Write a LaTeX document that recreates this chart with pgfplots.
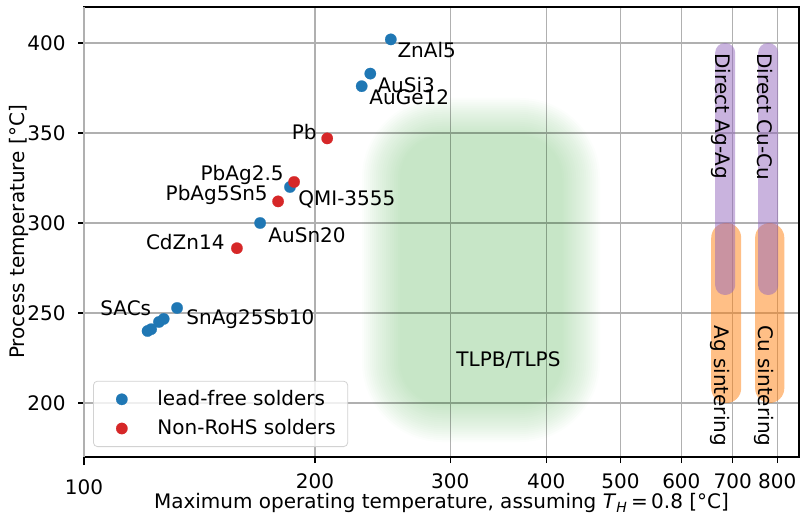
\documentclass[border=0pt]{standalone}
\usepackage{pgfplots}
\pgfplotsset{compat=1.18}
\usepackage{fontspec}
\setmainfont{DejaVu Sans}
\definecolor{tabblue}{RGB}{31,119,180}
\definecolor{tabred}{RGB}{214,39,40}
\definecolor{tabgreen}{RGB}{44,160,44}
\definecolor{tabpurple}{RGB}{148,103,189}
\definecolor{taborange}{RGB}{255,127,14}
\definecolor{gridgray}{RGB}{176,176,176}
\begin{document}
\fontsize{10}{12}\selectfont
\begin{tikzpicture}
\begin{axis}[name=ax, scale only axis, width=357.5pt, height=225pt,
  xmode=log, xmin=100, xmax=854, ymin=170, ymax=420,
  xtick={200,300,400,500,600,700,800},
  xticklabels={200,300,400,500,600,700,800},
  extra x ticks={100}, extra x tick labels={100},
  extra x tick style={major tick length=4pt, xticklabel style={yshift=-2pt}},
  minor xtick={}, ytick={200,250,300,350,400},
  grid=major, major grid style={gridgray, line width=0.6pt},
  axis line style={line width=0.75pt},
  tick align=outside, xtick pos=bottom, ytick pos=left, major tick length=3pt,
  tick style={black, line width=0.6pt},
  xticklabel style={inner sep=0pt, anchor=north},
  xticklabel shift=5pt,
  yticklabel style={inner sep=0pt, anchor=east, xshift=-6pt},
  /pgf/number format/assume math mode=true,
  every axis x label/.style={at={([yshift=-18.2pt]axis description cs:0.5,0)}, anchor=north, inner sep=0pt},
  every axis y label/.style={at={([xshift=-37.5pt]axis description cs:0,0.5)}, rotate=90, anchor=north, inner sep=0pt},
  xlabel={Maximum operating temperature, assuming \textit{T}\textsubscript{\textit{H}}\,=\,0.8 [°C]},
  ylabel={Process temperature [°C]},
  legend style={at={(axis description cs:0.0126,0.0222)}, anchor=south west,
    draw=gray!35, rounded corners=2pt, fill=white, fill opacity=0.8, text opacity=1,
    inner xsep=4pt, inner ysep=2.5pt, row sep=1.5pt, legend cell align=left},
  legend image code/.code={\path[draw=none, fill=none, opacity=0] (0pt,-1pt) rectangle (26pt,1pt);
    \draw[mark repeat=2, mark phase=2, fill opacity=1, draw opacity=1] plot coordinates {(0pt,0pt) (10.2pt,0pt) (20.4pt,0pt)};},
]
% TLPB/TLPS blurred region
\pgfplotsinvokeforeach{0,...,19}{
  \fill[tabgreen, fill opacity=0.0155, rounded corners={(40-#1)*1pt}]
    ([xshift={(278+2*#1)*0.5pt}, yshift={(15+2*#1)*0.5pt}]rel axis cs:0,0) rectangle
    ([xshift={(516-2*#1)*0.5pt}, yshift={(359-2*#1)*0.5pt}]rel axis cs:0,0);
}
\node[anchor=west, inner sep=0] at (axis cs:305.3,223.9) {TLPB/TLPS};
% sintering (orange) and direct bonding (purple)
\fill[taborange, fill opacity=0.5, rounded corners=7.4pt] (axis cs:656.3,200) rectangle (axis cs:718.0,300);
\fill[taborange, fill opacity=0.5, rounded corners=7.4pt] (axis cs:748.7,200) rectangle (axis cs:817.1,300);
\fill[tabpurple, fill opacity=0.5, rounded corners=4.9pt] (axis cs:664.1,260) rectangle (axis cs:705.2,400);
\fill[tabpurple, fill opacity=0.5, rounded corners=4.9pt] (axis cs:755.4,260) rectangle (axis cs:802.3,400);
\node[rotate=-90, anchor=west, inner sep=0] at (axis cs:676.2,394.4) {Direct Ag-Ag};
\node[rotate=-90, anchor=west, inner sep=0] at (axis cs:771.5,394.4) {Direct Cu-Cu};
\node[rotate=-90, anchor=west, inner sep=0] at (axis cs:674.2,243.3) {Ag sintering};
\node[rotate=-90, anchor=west, inner sep=0] at (axis cs:769.3,243.3) {Cu sintering};

\addplot[only marks, mark=*, mark size=2.85pt, color=tabblue, mark options={line width=0.1pt}] coordinates {
  (251,402) (236,383) (230,376) (185.5,320) (169.6,300)
  (121,240) (122.3,241) (125.2,245) (127,246.7) (132.2,252.8)};
\addlegendentry{lead-free solders}
\addplot[only marks, mark=*, mark size=2.85pt, color=tabred, mark options={line width=0.1pt}] coordinates {
  (207.4,347) (187.8,322.8) (179,312) (158.2,286)};
\addlegendentry{Non-RoHS solders}

\node[anchor=west, inner sep=0] at (axis cs:255.8,396.1) {ZnAl5};
\node[anchor=west, inner sep=0] at (axis cs:240.9,376.7) {AuSi3};
\node[anchor=west, inner sep=0] at (axis cs:235.1,370) {AuGe12};
\node[anchor=east, inner sep=0] at (axis cs:201.2,350.6) {Pb};
\node[anchor=east, inner sep=0] at (axis cs:182.2,326.7) {PbAg2.5};
\node[anchor=east, inner sep=0] at (axis cs:173.7,315.6) {PbAg5Sn5};
\node[anchor=west, inner sep=0] at (axis cs:190,313.3) {QMI-3555};
\node[anchor=west, inner sep=0] at (axis cs:173.7,293.3) {AuSn20};
\node[anchor=east, inner sep=0] at (axis cs:152.6,289.4) {CdZn14};
\node[anchor=west, inner sep=0] at (axis cs:104.9,252.8) {SACs};
\node[anchor=west, inner sep=0] at (axis cs:135.8,246.7) {SnAg25Sb10};
\end{axis}
\pgfresetboundingbox
\path[use as bounding box] ([shift={(-42pt,-28pt)}]ax.south west) rectangle ([shift={(1pt,3.5pt)}]ax.north east);
\end{tikzpicture}
\end{document}
